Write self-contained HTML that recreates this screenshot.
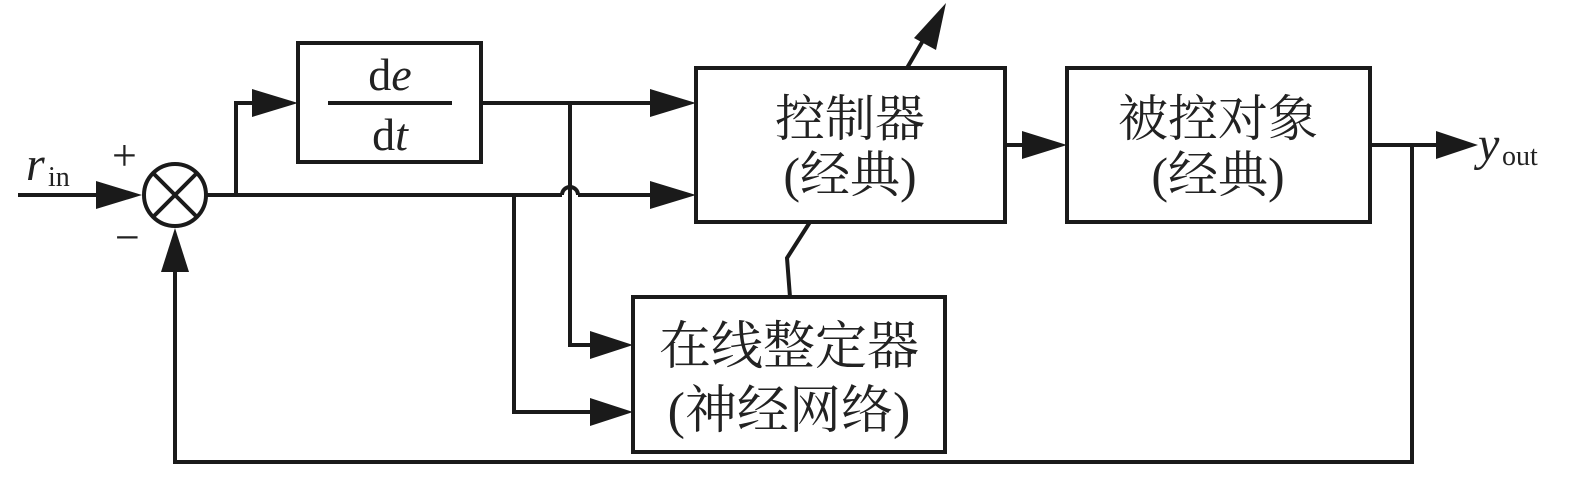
<!DOCTYPE html>
<html><head><meta charset="utf-8"><style>
html,body{margin:0;padding:0;background:#fff;}
svg text{font-family:"Liberation Serif","Noto Serif CJK SC","Noto Sans CJK SC",serif;fill:#222;}
</style></head><body>
<svg width="1575" height="496" viewBox="0 0 1575 496" xmlns="http://www.w3.org/2000/svg">
<g stroke="#1a1a1a" stroke-width="4" fill="none">
<rect x="298" y="43" width="183" height="119"/>
<rect x="696" y="68" width="309" height="154"/>
<rect x="1067" y="68" width="303" height="154"/>
<rect x="633" y="297" width="312" height="155"/>
<ellipse cx="175" cy="195" rx="31" ry="31"/>
<line x1="153" y1="173" x2="197" y2="217"/>
<line x1="197" y1="173" x2="153" y2="217"/>
<line x1="18" y1="195" x2="120" y2="195"/>
<line x1="206" y1="195" x2="562" y2="195"/>
<path d="M562 195 A8 8 0 0 1 578 195"/>
<line x1="578" y1="195" x2="650" y2="195"/>
<polyline points="236,195 236,103 258,103"/>
<line x1="481" y1="103" x2="650" y2="103"/>
<polyline points="570,103 570,345 590,345"/>
<polyline points="514,195 514,412 590,412"/>
<polyline points="790,297 787,258 810,222"/>
<line x1="907" y1="68" x2="928" y2="32"/>
<line x1="1005" y1="145" x2="1025" y2="145"/>
<line x1="1370" y1="145" x2="1440" y2="145"/>
<polyline points="1412,145 1412,462 175,462 175,265"/>
<line x1="328" y1="103" x2="452" y2="103"/>
</g>
<g fill="#1a1a1a">
<polygon points="142,195 96,181 96,209"/>
<polygon points="298,103 252,89 252,117"/>
<polygon points="696,103 650,89 650,117"/>
<polygon points="696,195 650,181 650,209"/>
<polygon points="633,345 590,331 590,359"/>
<polygon points="633,412 590,398 590,426"/>
<polygon points="1067,145 1022,131 1022,159"/>
<polygon points="1478,145 1436,131 1436,159"/>
<polygon points="175,228 161,272 189,272"/>
<polygon points="946,3 914,38 936,50"/>
</g>
<text x="390" y="90" font-size="46" text-anchor="middle">d<tspan font-style="italic">e</tspan></text>
<text x="390" y="150" font-size="46" text-anchor="middle">d<tspan font-style="italic">t</tspan></text>
<text x="26" y="180" font-size="48" font-style="italic">r</text>
<text x="48" y="186" font-size="28">in</text>
<text x="112" y="170" font-size="44">+</text>
<text x="115" y="252" font-size="44">−</text>
<text x="1478" y="160" font-size="48" font-style="italic">y</text>
<text x="1502" y="165" font-size="28">out</text>
<text x="850" y="136" font-size="50" text-anchor="middle">控制器</text>
<text x="850" y="192" font-size="50" text-anchor="middle">(经典)</text>
<text x="1218" y="136" font-size="50" text-anchor="middle">被控对象</text>
<text x="1218" y="192" font-size="50" text-anchor="middle">(经典)</text>
<text x="789" y="364" font-size="52" text-anchor="middle">在线整定器</text>
<text x="789" y="428" font-size="52" text-anchor="middle">(神经网络)</text>
</svg>
</body></html>
